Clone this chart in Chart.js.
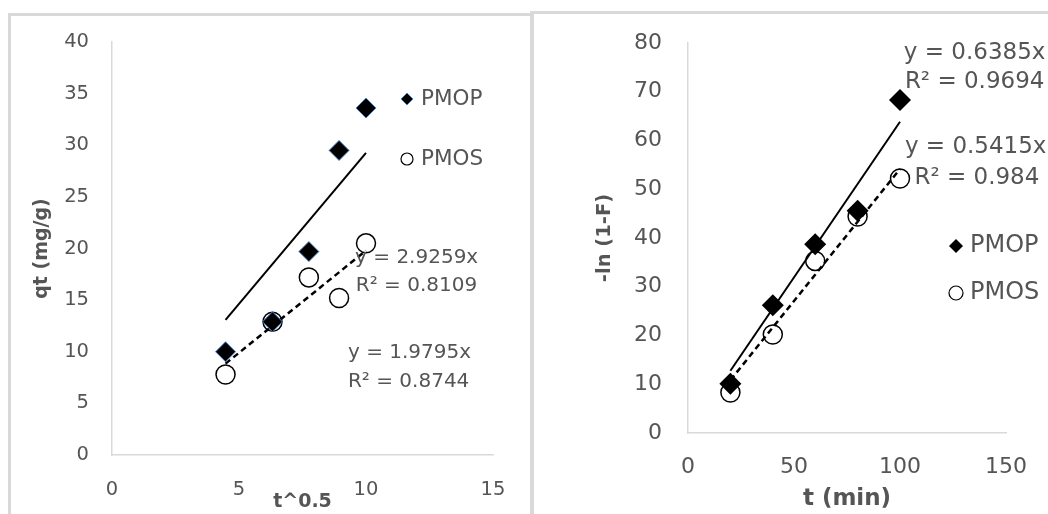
<!DOCTYPE html>
<html>
<head>
<meta charset="utf-8">
<title>Kinetics</title>
<script src="https://cdn.jsdelivr.net/npm/chart.js@4.4.1/dist/chart.umd.min.js"></script>
<style>
  body { margin: 0; background: #fff; width: 1048px; height: 514px; overflow: hidden; position: relative; }
  .frame { position: absolute; border: 3px solid #d9d9d9; box-sizing: border-box; }
  #leftFrame { left: 8px; top: 13px; width: 526px; height: 530px; }
  #rightFrame { left: 530px; top: 11px; width: 560px; height: 530px; }
  canvas { position: absolute; top: 0; }
  #leftChart { left: 0; }
  #rightChart { left: 531px; }
</style>
</head>
<body>
<div class="frame" id="leftFrame"></div>
<div class="frame" id="rightFrame"></div>
<canvas id="leftChart" width="531" height="514"></canvas>
<canvas id="rightChart" width="517" height="514"></canvas>
<script>
// left panel: intraparticle diffusion
const tRoot = [4.47, 6.32, 7.75, 8.94, 10];
const qtPMOP = [10.0, 12.9, 19.7, 29.5, 33.6];
const qtPMOS = [7.8, 12.9, 17.2, 15.2, 20.5];
const leftSlopes = [2.9259, 1.9795];
const leftR2 = ['0.8109', '0.8744'];
const leftXTicks = [0, 5, 10, 15];
const leftYTicks = [0, 5, 10, 15, 20, 25, 30, 35, 40];

// right panel: -ln(1-F) vs t
const tMin = [20, 40, 60, 80, 100];
const lnPMOP = [10.1, 26.2, 38.7, 45.6, 68.3];
const lnPMOS = [8.3, 20.2, 35.3, 44.4, 52.2];
const rightSlopes = [0.6385, 0.5415];
const rightR2 = ['0.9694', '0.984'];
const rightXTicks = [0, 50, 100, 150];
const rightYTicks = [0, 10, 20, 30, 40, 50, 60, 70, 80];

const seriesNames = ['PMOP', 'PMOS'];
const FONT = '"DejaVu Sans", sans-serif';
const GREY = '#555555';

const toPoints = (xs, ys) => xs.map((x, i) => ({ x, y: ys[i] }));
const trend = (xs, slope) => {
  const lo = Math.min(...xs), hi = Math.max(...xs);
  return [{ x: lo, y: slope * lo }, { x: hi, y: slope * hi }];
};

function drawMarker(ctx, style, x, y, r, fill, stroke, lw) {
  ctx.beginPath();
  if (style === 'rectRot') {
    ctx.moveTo(x - r, y); ctx.lineTo(x, y - r); ctx.lineTo(x + r, y); ctx.lineTo(x, y + r);
    ctx.closePath();
  } else {
    ctx.arc(x, y, r, 0, Math.PI * 2);
  }
  ctx.fillStyle = fill;
  ctx.fill();
  if (lw) { ctx.strokeStyle = stroke; ctx.lineWidth = lw; ctx.stroke(); }
}

// trendline equations + hand placed legend
const notesPlugin = {
  id: 'notes',
  afterDatasetsDraw(chart, args, opts) {
    const { ctx, scales: { x, y } } = chart;
    ctx.save();
    ctx.textBaseline = 'middle';
    ctx.textAlign = 'left';
    ctx.font = `${opts.size}px ${FONT}`;
    opts.labels.forEach(l => {
      ctx.fillStyle = GREY;
      ctx.fillText(l.text, x.getPixelForValue(l.x), y.getPixelForValue(l.y));
    });
    opts.legend.forEach((item, i) => {
      const ds = chart.data.datasets[i];
      drawMarker(ctx, ds.pointStyle, item.px, item.py, item.r,
        ds.pointBackgroundColor, ds.pointBorderColor, item.lw);
      ctx.fillStyle = GREY;
      ctx.font = `${opts.legendSize}px ${FONT}`;
      ctx.fillText(ds.label, item.px + item.gap, item.py);
    });
    ctx.restore();
  }
};

function axis(min, max, ticks, title, tickSize, tickPad, titleSize, titlePad, boxSize, horizontal) {
  return {
    type: 'linear',
    min, max,
    afterBuildTicks: (s) => { s.ticks = ticks.map(v => ({ value: v })); },
    afterFit: (s) => { if (horizontal) s.height = boxSize; else s.width = boxSize; },
    grid: { display: false, drawTicks: false },
    border: { display: true, color: '#d9d9d9', width: 1.5 },
    ticks: { color: GREY, padding: tickPad, font: { family: FONT, size: tickSize }, maxRotation: 0 },
    title: { display: true, text: title, color: GREY, padding: titlePad,
      font: { family: FONT, size: titleSize, weight: 'bold' } }
  };
}

function makeChart(id, cfg) {
  return new Chart(document.getElementById(id), {
    type: 'scatter',
    data: {
      datasets: [
        {
          label: seriesNames[0], data: toPoints(cfg.xs, cfg.yA),
          pointStyle: 'rectRot', pointRadius: cfg.diamondR, pointHoverRadius: cfg.diamondR,
          pointBackgroundColor: '#000', pointBorderColor: cfg.diamondEdge, pointBorderWidth: cfg.diamondEdgeW
        },
        {
          label: seriesNames[1], data: toPoints(cfg.xs, cfg.yB),
          pointStyle: 'circle', pointRadius: cfg.circleR, pointHoverRadius: cfg.circleR,
          pointBackgroundColor: 'rgba(255,255,255,0)', pointBorderColor: '#000', pointBorderWidth: 1.5
        },
        {
          label: 'trendA', data: trend(cfg.xs, cfg.slopes[0]), showLine: true,
          borderColor: '#000', borderWidth: 2, pointRadius: 0
        },
        {
          label: 'trendB', data: trend(cfg.xs, cfg.slopes[1]), showLine: true,
          borderColor: '#000', borderWidth: 2.5, borderDash: [6, 4], pointRadius: 0
        }
      ]
    },
    options: {
      responsive: false,
      animation: false,
      devicePixelRatio: 1,
      layout: { padding: cfg.padding },
      plugins: {
        legend: { display: false },
        tooltip: { enabled: false },
        notes: cfg.notes
      },
      scales: { x: cfg.x, y: cfg.y }
    },
    plugins: [notesPlugin]
  });
}

makeChart('leftChart', {
  xs: tRoot, yA: qtPMOP, yB: qtPMOS, slopes: leftSlopes,
  diamondR: 10, diamondEdge: '#4a86c8', diamondEdgeW: 1, circleR: 9.5,
  padding: { left: 0, top: 42, right: 38, bottom: 0 },
  x: axis(0, 15, leftXTicks, 't^0.5', 19.5, 23, 19, { bottom: 1 }, 59, true),
  y: axis(0, 40, leftYTicks, 'qt (mg/g)', 19.5, 23, 19, { top: 31 }, 112, false),
  notes: {
    size: 20, legendSize: 21.5,
    labels: [
      { text: `y = ${leftSlopes[0]}x`, x: 9.57, y: 19.1 },
      { text: `R² = ${leftR2[0]}`, x: 9.6, y: 16.4 },
      { text: `y = ${leftSlopes[1]}x`, x: 9.29, y: 9.9 },
      { text: `R² = ${leftR2[1]}`, x: 9.29, y: 7.1 }
    ],
    legend: [
      { px: 407, py: 99, r: 6, lw: 1, gap: 14 },
      { px: 407, py: 159, r: 6, lw: 1.2, gap: 14 }
    ]
  }
});

makeChart('rightChart', {
  xs: tMin, yA: lnPMOP, yB: lnPMOS, slopes: rightSlopes,
  diamondR: 11, diamondEdge: '#000', diamondEdgeW: 0, circleR: 9.5,
  padding: { left: 0, top: 43, right: 30, bottom: 0 },
  x: axis(0, 150, rightXTicks, 't (min)', 22, 21, 23, { bottom: 1 }, 81, true),
  y: axis(0, 80, rightYTicks, '-ln (1-F)', 22, 26, 19.5, { top: 62 }, 157, false),
  notes: {
    size: 23, legendSize: 24,
    labels: [
      { text: `y = ${rightSlopes[0]}x`, x: 101.8, y: 77.9 },
      { text: `R² = ${rightR2[0]}`, x: 102.3, y: 72.0 },
      { text: `y = ${rightSlopes[1]}x`, x: 102.3, y: 58.7 },
      { text: `R² = ${rightR2[1]}`, x: 106.8, y: 52.3 }
    ],
    legend: [
      { px: 425, py: 246, r: 7, lw: 0, gap: 14 },
      { px: 425, py: 293, r: 7, lw: 1.2, gap: 14 }
    ]
  }
});
</script>
</body>
</html>
